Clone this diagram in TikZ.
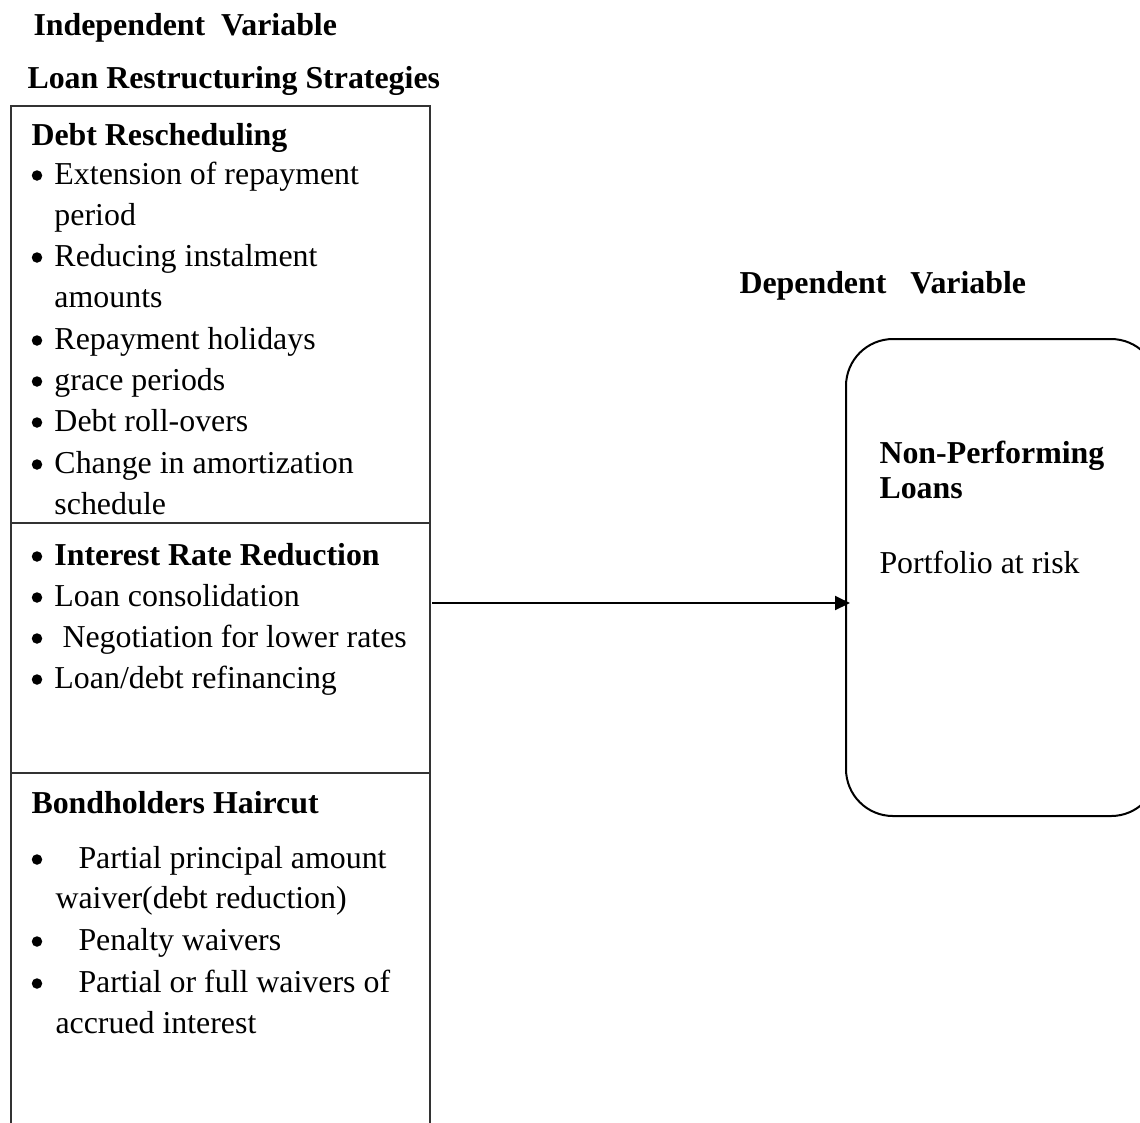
\documentclass[tikz,border=0pt]{standalone}
\usepackage{fontspec}
\setmainfont{Liberation Serif}
\usetikzlibrary{arrows.meta,positioning}

\begin{document}
\begin{tikzpicture}[
        x=0.4pt, y=-0.4pt,
        every node/.style={font=\fontsize{12.75}{15}\selectfont},
        txt/.style={anchor=base west, inner sep=0pt},
        headtxt/.style={txt, font=\fontsize{12.75}{15}\selectfont\bfseries},
        dot/.style={circle, fill, inner sep=0pt, minimum size=4.2pt},
        frame/.style={draw=black!80, line width=0.45pt},
        dvbox/.style={draw, line width=0.8pt, rounded corners=18.8pt, minimum width=124.8pt, minimum height=190.8pt, anchor=north west, inner sep=0pt},
        link/.style={-{Triangle[length=6pt, width=5.6pt]}, line width=0.8pt}
    ]
    \clip (0,0) rectangle (1140,1122);

    % === Titles ===
    \node[headtxt] (indep) at (33,35) {Independent\ \ Variable};
    \node[headtxt] (lrs) at (27,88) {Loan Restructuring Strategies};
    \node[headtxt] (dep) at (739,293) {Dependent\hspace{0.75em}Variable};

    % === Strategies frame (open at the bottom) ===
    \coordinate (frameNW) at (11,106);
    \coordinate (frameNE) at (430,106);
    \draw[frame] (11,1130) -- (frameNW) -- (frameNE) -- (430,1130);
    \draw[frame] (11,523) -- (430,523);
    \draw[frame] (11,773) -- (430,773);

    % === Debt rescheduling ===
    \node[headtxt] (dr) at (31,145) {Debt Rescheduling};
    \foreach \yy in {184,266,349,390,431,473} { \node[dot] at (37,\yy-8.5) {}; }
    \node[txt] (dr1) at (54,184) {Extension of repayment};
    \node[txt] (dr1b) at (54,225) {period};
    \node[txt] (dr2) at (54,266) {Reducing instalment};
    \node[txt] (dr2b) at (54,307) {amounts};
    \node[txt] (dr3) at (54,349) {Repayment holidays};
    \node[txt] (dr4) at (54,390) {grace periods};
    \node[txt] (dr5) at (54,431) {Debt roll-overs};
    \node[txt] (dr6) at (54,473) {Change in amortization};
    \node[txt] (dr6b) at (54,514) {schedule};

    % === Interest rate reduction ===
    \foreach \yy in {565,606,647,688} { \node[dot] at (37,\yy-8.5) {}; }
    \node[headtxt] (irr) at (54,565) {Interest Rate Reduction};
    \node[txt] (irr1) at (54,606) {Loan consolidation};
    \node[txt] (irr2) at (62,647) {Negotiation for lower rates};
    \node[txt] (irr3) at (54,688) {Loan/debt refinancing};

    % === Bondholders haircut ===
    \node[headtxt] (bh) at (31,813) {Bondholders Haircut};
    \foreach \yy in {868,950,992} { \node[dot] at (37,\yy-8.5) {}; }
    \node[txt] (bh1) at (78,868) {Partial principal amount};
    \node[txt] (bh1b) at (55,908) {waiver(debt reduction)};
    \node[txt] (bh2) at (78,950) {Penalty waivers};
    \node[txt] (bh3) at (78,992) {Partial or full waivers of};
    \node[txt] (bh3b) at (55,1033) {accrued interest};

    % === Dependent variable box ===
    \node[dvbox] (npl) at (845,338) {};
    \node[headtxt] (npl1) at (879,463) {Non-Performing};
    \node[headtxt] (npl2) at (879,498) {Loans};
    \node[txt] (par) at (879,573) {Portfolio at risk};

    % Arrow
    \coordinate (linky) at (432,603);
    \draw[link] (linky) -- ([xshift=2pt]linky -| npl.west);

\end{tikzpicture}
\end{document}
